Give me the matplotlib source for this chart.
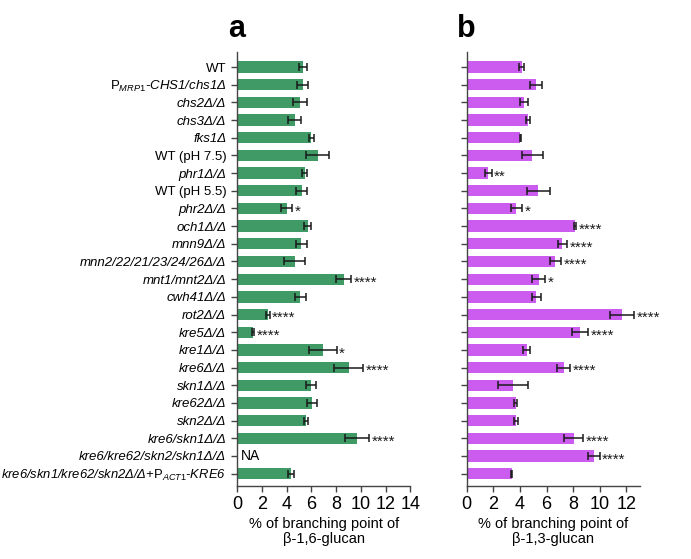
import matplotlib
matplotlib.use("Agg")
import matplotlib.pyplot as plt
import numpy as np

plt.rcParams['font.family'] = ['Liberation Sans', 'DejaVu Sans']
plt.rcParams['mathtext.fontset'] = 'custom'
plt.rcParams['mathtext.rm'] = 'Liberation Sans'
plt.rcParams['mathtext.it'] = 'Liberation Sans:italic'
plt.rcParams['mathtext.bf'] = 'Liberation Sans:bold'

labels = [
    "WT",
    r"$\mathrm{P}_{\mathit{MRP1}}$-CHS1/chs1Δ",
    "chs2Δ/Δ",
    "chs3Δ/Δ",
    "fks1Δ",
    "WT (pH 7.5)",
    "phr1Δ/Δ",
    "WT (pH 5.5)",
    "phr2Δ/Δ",
    "och1Δ/Δ",
    "mnn9Δ/Δ",
    "mnn2/22/21/23/24/26Δ/Δ",
    "mnt1/mnt2Δ/Δ",
    "cwh41Δ/Δ",
    "rot2Δ/Δ",
    "kre5Δ/Δ",
    "kre1Δ/Δ",
    "kre6Δ/Δ",
    "skn1Δ/Δ",
    "kre62Δ/Δ",
    "skn2Δ/Δ",
    "kre6/skn1Δ/Δ",
    "kre6/kre62/skn2/skn1Δ/Δ",
    r"kre6/skn1/kre62/skn2Δ/Δ+$\mathrm{P}_{\mathit{ACT1}}$-KRE6",
]
upright = {"WT", "WT (pH 7.5)", "WT (pH 5.5)"}

# panel a: beta-1,6-glucan (NaN = NA)
b16_mean = [5.33, 5.29, 5.07, 4.64, 5.99, 6.50, 5.45, 5.20, 3.99, 5.69, 5.18, 4.64,
            8.60, 5.10, 2.45, 1.29, 6.93, 9.00, 5.96, 6.07, 5.56, 9.68, np.nan, 4.34]
b16_sd = [0.32, 0.47, 0.55, 0.51, 0.22, 0.92, 0.20, 0.47, 0.43, 0.26, 0.47, 0.84,
          0.59, 0.42, 0.16, 0.09, 1.10, 1.17, 0.38, 0.40, 0.16, 0.97, np.nan, 0.23]
b16_sig = ["", "", "", "", "", "", "", "", "*", "", "", "",
           "****", "", "****", "****", "*", "****", "", "", "", "****", "", ""]

# panel b: beta-1,3-glucan
b13_mean = [4.14, 5.21, 4.29, 4.57, 4.04, 4.94, 1.62, 5.39, 3.72, 8.16, 7.19, 6.66,
            5.41, 5.24, 11.68, 8.51, 4.52, 7.29, 3.49, 3.69, 3.69, 8.03, 9.53, 3.37]
b13_sd = [0.19, 0.44, 0.29, 0.15, 0.04, 0.76, 0.25, 0.89, 0.42, 0.07, 0.32, 0.42,
          0.50, 0.36, 0.92, 0.59, 0.27, 0.47, 1.11, 0.12, 0.17, 0.69, 0.45, 0.03]
b13_sig = ["", "", "", "", "", "", "**", "", "*", "****", "****", "****",
           "*", "", "****", "****", "", "****", "", "", "", "****", "****", ""]

green = "#3f9a66"
purple = "#cc5cf0"
spine_col = "#444444"

fig = plt.figure(figsize=(6.91, 5.59), dpi=100)
W = 173 / 691
bottom = 1 - 486 / 559
height = (486 - 52) / 559
axa = fig.add_axes([237.3 / 691, bottom, W, height])
axb = fig.add_axes([466.7 / 691, bottom, W, height])

y = np.arange(len(labels))

def draw(ax, mean, sd, sig, color, xmax, ticks, xlabel):
    m = np.array(mean, dtype=float)
    s = np.array(sd, dtype=float)
    ax.barh(y, np.nan_to_num(m), height=0.64, color=color, edgecolor='none', zorder=2)
    ok = ~np.isnan(m)
    ax.errorbar(m[ok], y[ok], xerr=s[ok], fmt='none', ecolor='#1a1a1a',
                elinewidth=1.1, capsize=3.0, capthick=1.1, zorder=3)
    for yi, mi, si, st in zip(y, m, s, sig):
        if st:
            ax.text(mi + si + 0.2, yi + 0.2, st, ha='left', va='center',
                    fontsize=11, color='#1a1a1a')
    ax.set_xlim(0, xmax)
    ax.set_ylim(len(labels) - 1 + 0.7, -0.85)
    ax.set_xticks(ticks)
    ax.set_xticklabels([str(t) for t in ticks], fontsize=13)
    ax.set_yticks(y)
    for sp in ['top', 'right']:
        ax.spines[sp].set_visible(False)
    for sp in ['left', 'bottom']:
        ax.spines[sp].set_color(spine_col)
        ax.spines[sp].set_linewidth(1.0)
    ax.tick_params(axis='both', colors=spine_col, width=1.0, length=4.5,
                   labelcolor='black')
    ax.tick_params(axis='x', pad=2.5)
    ax.set_xlabel(xlabel, fontsize=10.5, labelpad=3, linespacing=1.1)

draw(axa, b16_mean, b16_sd, b16_sig, green, 14, list(range(0, 15, 2)),
     "% of branching point of\nβ-1,6-glucan")
draw(axb, b13_mean, b13_sd, b13_sig, purple, 13, list(range(0, 13, 2)),
     "% of branching point of\nβ-1,3-glucan")

axa.set_yticklabels(labels, fontsize=9.5)
for lab, t in zip(labels, axa.get_yticklabels()):
    if lab not in upright:
        t.set_fontstyle('italic')
axa.get_yticklabels()[-1].set_fontsize(9.4)
axb.set_yticklabels([])

axa.text(0.25, 22, "NA", ha='left', va='center', fontsize=10)

fig.text(237 / 691, 1 - 37 / 559, "a", fontsize=22, fontweight='bold',
         ha='center', va='baseline')
fig.text(466 / 691, 1 - 37 / 559, "b", fontsize=22, fontweight='bold',
         ha='center', va='baseline')

fig.savefig("out.png", dpi=100)
